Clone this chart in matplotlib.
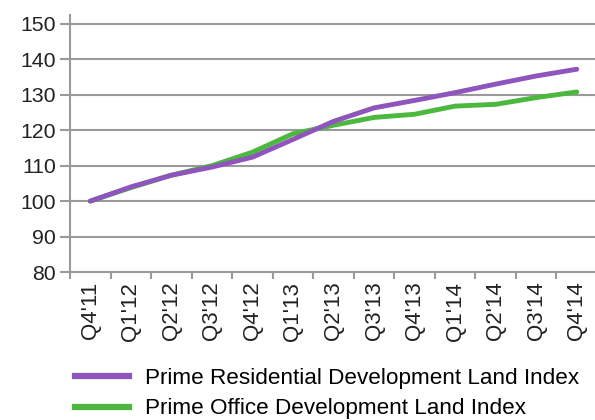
import matplotlib
matplotlib.use("Agg")
import matplotlib.pyplot as plt
from matplotlib.lines import Line2D

quarters = ["Q4'11", "Q1'12", "Q2'12", "Q3'12", "Q4'12", "Q1'13", "Q2'13",
            "Q3'13", "Q4'13", "Q1'14", "Q2'14", "Q3'14", "Q4'14"]
residential = [100, 104, 107.3, 109.6, 112.4, 117.4, 122.5, 126.3, 128.4, 130.6, 133.0, 135.3, 137.2]
office = [100, 103.8, 107.3, 110.0, 113.8, 119.0, 121.4, 123.6, 124.5, 126.8, 127.3, 129.2, 130.8]
yticks = [80, 90, 100, 110, 120, 130, 140, 150]

plt.rcParams['font.family'] = ['Liberation Sans', 'DejaVu Sans']

purple = "#8e55bd"
green = "#4cb83e"
grey = "#9a9a9a"

fig = plt.figure(figsize=(5.95, 4.2), dpi=100)
ax = fig.add_axes([70/595, 1-272/420, (597-70)/595, (272-15)/420])

x = list(range(len(quarters)))
ax.plot(x, office, color=green, lw=3.5, solid_capstyle='round', zorder=3)
ax.plot(x, residential, color=purple, lw=3.5, solid_capstyle='round', zorder=4)

ax.set_xlim(-0.5, len(quarters) - 0.5)
ax.set_ylim(80, 152.5)
ax.set_yticks(yticks)
ax.set_yticklabels([str(v) for v in yticks], fontsize=15.3, color="#222222")
for v in yticks[1:]:
    ax.axhline(v, color=grey, lw=1.5, zorder=1)

ax.set_xticks([i - 0.5 for i in range(len(quarters) + 1)])
ax.set_xticklabels([])
ax.set_xticks(x, minor=True)
ax.set_xticklabels(quarters, minor=True, rotation=90, fontsize=16, color="#222222")
ax.tick_params(axis='x', which='minor', length=0, pad=7)
ax.tick_params(axis='x', which='major', length=5, width=1.5, color=grey)
ax.tick_params(axis='y', length=7, width=1.5, color=grey, pad=3)

for s in ['top', 'right']:
    ax.spines[s].set_visible(False)
for s in ['left', 'bottom']:
    ax.spines[s].set_color(grey)
    ax.spines[s].set_linewidth(1.5)

handles = [Line2D([], [], color=purple, lw=4.5),
           Line2D([], [], color=green, lw=4.5)]
fig.legend(handles, ["Prime Residential Development Land Index",
                     "Prime Office Development Land Index"],
           loc='upper left', bbox_to_anchor=(75/595, 1-368/420), frameon=False,
           fontsize=16.2, handlelength=2.4, handletextpad=0.7, labelspacing=0.42,
           borderaxespad=0, borderpad=0)

fig.savefig("out.png", dpi=100)
